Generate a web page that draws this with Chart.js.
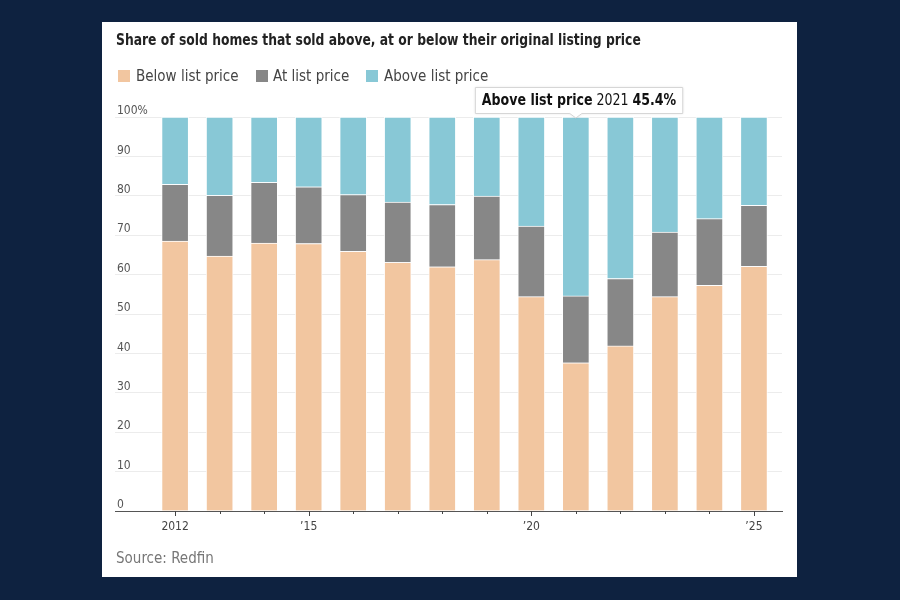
<!DOCTYPE html>
<html><head><meta charset="utf-8">
<script src="https://cdn.jsdelivr.net/npm/chart.js@4"></script>
<style>
html,body{margin:0;padding:0;background:#0e2240;width:900px;height:600px;overflow:hidden}
#card{position:absolute;left:102px;top:22px;width:695px;height:555px;background:#fff}
#chart{position:absolute;left:0;top:0}
.txt{position:absolute;white-space:nowrap;font-family:"DejaVu Sans Condensed","Liberation Sans Narrow",sans-serif}
#title{left:14px;top:9px;font-size:15px;font-weight:bold;color:#222;transform:scaleX(0.915);transform-origin:0 0}
.lg{top:45px;font-size:15px;color:#444}
.sw{position:absolute;top:48px;width:12px;height:12px}
#source{left:14px;top:527px;font-size:15px;color:#777}
</style></head>
<body>
<div id="card">
  <canvas id="chart" width="695" height="555"></canvas>
  <div class="txt" id="title">Share of sold homes that sold above, at or below their original listing price</div>
  <div id="legend"></div>
  <div class="txt" id="source">Source: Redfin</div>
</div>
<script>
const years = [2012,2013,2014,2015,2016,2017,2018,2019,2020,2021,2022,2023,2024,2025];
const belowList = [68.5,64.7,68.0,67.9,65.9,63.1,62.0,63.8,54.4,37.6,41.9,54.4,57.3,62.1];
const atList    = [14.4,15.4,15.4,14.4,14.4,15.3,15.8,16.1,17.9,17.0,17.1,16.4,16.9,15.5];
const aboveList = [17.1,19.9,16.6,17.7,19.7,21.6,22.2,20.1,27.7,45.4,41.0,29.2,25.8,22.4];
const seriesNames = ['Below list price','At list price','Above list price'];
const seriesColors = ['#f2c6a0','#878787','#88c8d6'];
const xTickLabels = {2012:'2012',2015:'\u201915',2020:'\u201920',2025:'\u201925'};
const yTicks = [0,10,20,30,40,50,60,70,80,90,100];
const highlight = {series:2, year:2021};

// HTML legend built from series
const lg = document.getElementById('legend');
const swX = [16,154,264], txX = [34,171,282];
seriesNames.forEach((n,i)=>{
  const s=document.createElement('div');s.className='sw';s.style.left=swX[i]+'px';s.style.background=seriesColors[i];lg.appendChild(s);
  const t=document.createElement('div');t.className='txt lg';t.style.left=txX[i]+'px';t.textContent=n;lg.appendChild(t);
});

const FONT = '"DejaVu Sans Condensed","Liberation Sans Narrow",sans-serif';
const allSeries=[belowList,atList,aboveList];
const datasets = allSeries.map((arr,i)=>({
  label: seriesNames[i],
  data: years.map((y,j)=>({x:y,y:arr[j]})),
  backgroundColor: seriesColors[i],
  borderColor: 'rgba(255,255,255,0.85)',
  borderWidth: 1,
  barThickness: 27
}));

const tickPlugin = {
  id:'xticks',
  afterDatasetsDraw(chart){
    const {ctx, scales:{x}} = chart;
    const b = chart.chartArea.bottom;
    ctx.save();ctx.strokeStyle='#444';ctx.lineWidth=1;
    years.forEach(yr=>{
      const px=Math.round(x.getPixelForValue(yr))+0.5;
      const len = xTickLabels[yr]?5:3;
      ctx.beginPath();ctx.moveTo(px,b);ctx.lineTo(px,b+len);ctx.stroke();
    });
    ctx.restore();
  }
};

const tipPlugin = {
  id:'fixedTip',
  afterDraw(chart){
    const {ctx, scales:{x,y}} = chart;
    const idx = years.indexOf(highlight.year);
    const val = allSeries[highlight.series][idx];
    const cx = x.getPixelForValue(highlight.year);
    const top = y.getPixelForValue(100);
    const parts = [
      {t:seriesNames[highlight.series], b:true},
      {t:' '+highlight.year+' ', b:false},
      {t:val.toFixed(1)+'%', b:true}
    ];
    const sx = 0.875;
    ctx.save();
    let w=0;
    parts.forEach(p=>{ctx.font=(p.b?'bold ':'')+'16px '+FONT;p.w=ctx.measureText(p.t).width*sx;w+=p.w;});
    const pad=6, bx=cx-101, by=top-30, bw=w+pad*2+1, bh=26;
    ctx.shadowColor='rgba(0,0,0,0.12)';ctx.shadowBlur=3;
    ctx.fillStyle='#fff';ctx.strokeStyle='#d6d6d6';ctx.lineWidth=1;
    ctx.beginPath();
    ctx.moveTo(bx+0.5,by+0.5);ctx.lineTo(bx+bw+0.5,by+0.5);ctx.lineTo(bx+bw+0.5,by+bh+0.5);
    ctx.lineTo(cx+6,by+bh+0.5);ctx.lineTo(cx,by+bh+5);ctx.lineTo(cx-6,by+bh+0.5);
    ctx.lineTo(bx+0.5,by+bh+0.5);ctx.closePath();
    ctx.fill();ctx.shadowColor='transparent';ctx.stroke();
    let tx=bx+pad+1;
    ctx.fillStyle='#111';ctx.textBaseline='middle';
    parts.forEach(p=>{
      ctx.save();ctx.translate(tx,by+bh/2+1);ctx.scale(sx,1);
      ctx.font=(p.b?'bold ':'')+'16px '+FONT;ctx.fillText(p.t,0,0);ctx.restore();
      tx+=p.w;
    });
    ctx.restore();
  }
};

new Chart(document.getElementById('chart'),{
  type:'bar',
  data:{datasets},
  plugins:[tickPlugin,tipPlugin],
  options:{
    responsive:false,
    animation:false,
    events:[],
    layout:{padding:{top:95,left:13,right:15,bottom:36}},
    plugins:{legend:{display:false},tooltip:{enabled:false},title:{display:false}},
    scales:{
      x:{
        type:'linear',stacked:true,offset:false,bounds:'data',min:2010.65,max:2025.63,
        afterBuildTicks:s=>{s.ticks=years.map(v=>({value:v}));},
        afterFit:s=>{s.height=30;},
        grid:{drawOnChartArea:false,drawTicks:false,offset:false},
        border:{display:true,color:'#555',width:1},
        ticks:{autoSkip:false,maxRotation:0,padding:9,color:'#444',
          font:{family:FONT,size:12},
          callback:v=>xTickLabels[v]||''}
      },
      y:{
        stacked:true,min:0,max:100,bounds:'data',
        afterBuildTicks:s=>{s.ticks=yTicks.map(v=>({value:v}));},
        afterFit:s=>{s.width=0;},
        grid:{color:'#ececec',lineWidth:1,drawTicks:false},
        border:{display:false},
        ticks:{mirror:true,padding:2,labelOffset:-6,color:'#555',
          font:{family:FONT,size:12},
          callback:v=>v===100?'100%':String(v)}
      }
    }
  }
});
</script>
</body></html>
